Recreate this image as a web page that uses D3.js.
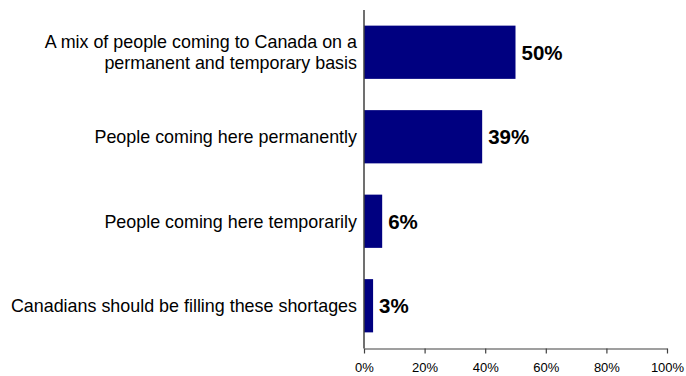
<!DOCTYPE html>
<html>
<head>
<meta charset="utf-8">
<script src="https://cdn.jsdelivr.net/npm/d3@7"></script>
<style>
  html, body { margin: 0; padding: 0; background: #fff; }
  svg { display: block; }
</style>
</head>
<body>
<svg id="chart" width="686" height="376"></svg>
<script>
// Survey responses: preferred way to fill labour shortages
const categories = [
  ["A mix of people coming to Canada on a", "permanent and temporary basis"],
  ["People coming here permanently"],
  ["People coming here temporarily"],
  ["Canadians should be filling these shortages"]
];
const values = [50, 39, 6, 3];
const tickValues = [0, 20, 40, 60, 80, 100];
const tickLabels = ["0%", "20%", "40%", "60%", "80%", "100%"];

const svg = d3.select("#chart");
const margin = { left: 364, right: 19, top: 10, bottom: 28 };
const W = 686, H = 376;
const FONT = "Liberation Sans, Arial, sans-serif";

const x = d3.scaleLinear().domain([0, 100]).range([margin.left, W - margin.right]);
const y = d3.scaleBand()
  .domain(d3.range(values.length))
  .range([margin.top, H - margin.bottom])
  .paddingInner(0.37)
  .paddingOuter(0.185);

// Bars
svg.append("g")
  .selectAll("rect")
  .data(values)
  .join("rect")
  .attr("x", x(0))
  .attr("y", (d, i) => y(i))
  .attr("width", d => x(d) - x(0))
  .attr("height", y.bandwidth())
  .attr("fill", "#000080");

// Value labels
svg.append("g")
  .selectAll("text")
  .data(values)
  .join("text")
  .attr("x", d => x(d) + 6)
  .attr("y", (d, i) => y(i) + y.bandwidth() / 2)
  .attr("dy", "0.36em")
  .attr("font-family", FONT)
  .attr("font-weight", "bold")
  .attr("font-size", "20.5px")
  .attr("fill", "#000")
  .text(d => d + "%");

// Category labels (right-aligned against the axis, slightly condensed)
const catFont = 18.5, squeeze = 0.968, lineH = 21;
const catG = svg.append("g")
  .attr("font-family", FONT)
  .attr("font-size", catFont + "px")
  .attr("fill", "#000")
  .attr("text-anchor", "end");
catG.selectAll("text")
  .data(categories)
  .join("text")
  .attr("transform", (d, i) =>
    `translate(${x(0) - 7},${y(i) + y.bandwidth() / 2}) scale(${squeeze},1)`)
  .each(function (lines) {
    const t = d3.select(this);
    const offset = -(lines.length - 1) * lineH / 2;
    lines.forEach((ln, k) => {
      t.append("tspan")
        .attr("x", 0)
        .attr("dy", k === 0 ? (offset / catFont + 0.36) + "em" : lineH + "px")
        .text(ln);
    });
  });

// X axis
const xAxis = d3.axisBottom(x)
  .tickValues(tickValues)
  .tickFormat((d, i) => tickLabels[i])
  .tickSize(5)
  .tickSizeOuter(0)
  .tickPadding(9);
const gx = svg.append("g")
  .attr("transform", `translate(0,${H - margin.bottom + 0.5})`)
  .call(xAxis);
gx.selectAll("path, line").attr("stroke", "#404040").attr("stroke-width", 1.2);
gx.selectAll("text")
  .attr("font-family", FONT)
  .attr("font-size", "13px")
  .attr("fill", "#000");

// Y axis line (no ticks)
svg.append("line")
  .attr("x1", x(0)).attr("x2", x(0))
  .attr("y1", margin.top).attr("y2", H - margin.bottom + 0.5)
  .attr("stroke", "#404040")
  .attr("stroke-width", 1.5);
</script>
</body>
</html>
